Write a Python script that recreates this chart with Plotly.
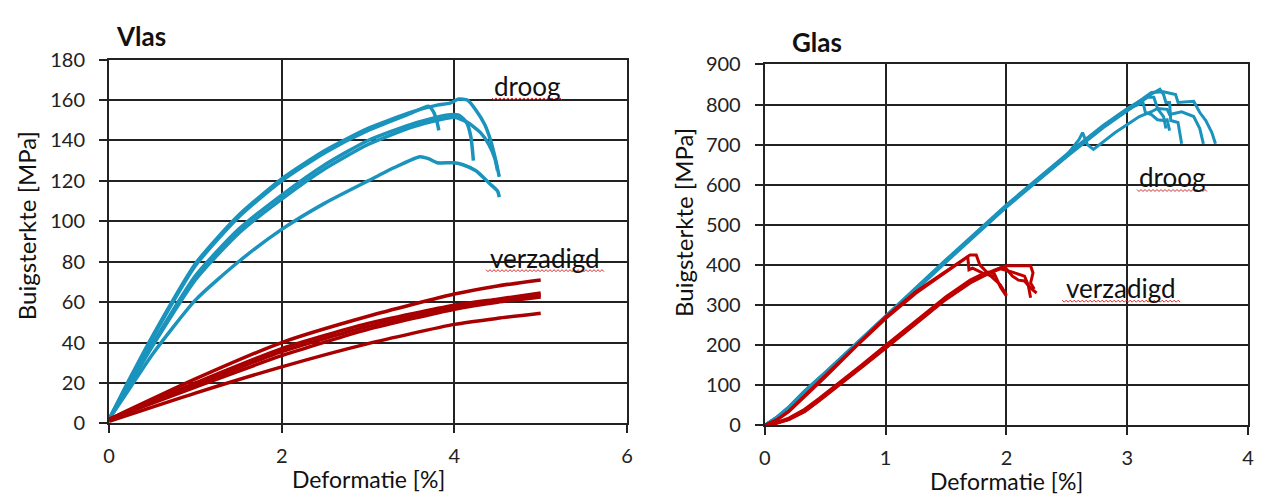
import plotly.graph_objects as go

# ---- Vlas (flax) : deformation [%] vs flexural strength [MPa] ----
vlas_droog = [
    ([0, 0.25, 0.5, 1, 1.5, 2, 2.5, 3, 3.5, 3.8, 3.95, 4.05, 4.15, 4.25, 4.35, 4.42, 4.48, 4.52],
     [2, 23, 43, 79, 103, 121, 135, 146, 154, 157.5, 158.5, 160.5, 160, 155, 148, 140, 130, 122]),
    ([0, 0.25, 0.5, 1, 1.5, 2, 2.5, 3, 3.5, 3.7, 3.76, 3.8, 3.82],
     [2, 22, 42, 78, 102, 120, 134, 145, 153.5, 157, 154, 149, 145]),
    ([0, 0.25, 0.5, 1, 1.5, 2, 2.5, 3, 3.5, 3.9, 4.05, 4.14, 4.19, 4.21, 4.22],
     [2, 21, 39, 73, 96, 113, 128, 140, 148, 152.5, 152.5, 149, 142, 135, 130]),
    ([0, 0.25, 0.5, 1, 1.5, 2, 2.5, 3, 3.5, 3.8, 4.0, 4.15, 4.3, 4.4, 4.47, 4.5],
     [2, 20, 38, 71, 94, 111, 126, 138, 146.5, 150, 151.5, 149, 144, 138, 131, 125]),
    ([0, 0.25, 0.5, 1, 1.5, 2, 2.5, 3, 3.3, 3.6, 3.7, 3.8, 4.0, 4.1, 4.25, 4.4, 4.5, 4.52],
     [2, 18, 34, 61, 80, 96, 109, 120, 126.5, 132, 131, 129, 129, 128, 125, 119, 115, 112]),
]
vlas_verzadigd = [
    ([0, 1, 2, 3, 4, 4.5, 5.0], [2, 22, 40, 53, 64, 68, 71]),
    ([0, 1, 2, 3, 4, 4.5, 5.0], [2, 20, 37, 49.5, 58.5, 61.5, 64.5]),
    ([0, 1, 2, 3, 4, 4.5, 5.0], [2, 19, 35.5, 48, 57.5, 60.5, 63.5]),
    ([0, 1, 2, 3, 4, 4.5, 5.0], [2, 18, 33.5, 46.5, 56.5, 60, 62.5]),
    ([0, 1, 2, 3, 4, 4.5, 5.0], [1, 15, 28, 39.5, 49, 52, 54.5]),
]

# ---- Glas (glass) ----
glas_droog = [
    ([0, 0.1, 0.2, 0.33, 0.5, 1, 1.5, 2, 2.5, 2.8, 3.0, 3.1, 3.2, 3.27, 3.3, 3.32, 3.35, 3.36, 3.42, 3.45],
     [0, 20, 46, 86, 132, 273, 413, 550, 676, 748, 790, 808, 825, 838, 825, 805, 805, 760, 755, 702]),
    ([0, 0.1, 0.2, 0.33, 0.5, 1, 1.5, 2, 2.5, 2.8, 3.0, 3.13, 3.2, 3.3, 3.4, 3.42, 3.55, 3.6, 3.65, 3.7, 3.73],
     [0, 19, 44, 84, 129, 270, 409, 546, 672, 744, 788, 815, 830, 832, 825, 805, 808, 780, 760, 730, 702]),
    ([0, 0.1, 0.2, 0.33, 0.5, 1, 1.5, 2, 2.5, 2.6, 2.63, 2.67, 2.72, 2.9, 3.1, 3.2, 3.25, 3.33, 3.35, 3.45, 3.55, 3.6, 3.63],
     [0, 20, 45, 85, 131, 271, 411, 548, 674, 712, 730, 700, 688, 730, 770, 782, 790, 788, 775, 782, 770, 740, 702]),
    ([0, 0.1, 0.2, 0.33, 0.5, 1, 1.5, 2, 2.5, 2.8, 3.05, 3.13, 3.15, 3.2, 3.25, 3.3, 3.33, 3.35],
     [0, 18, 43, 82, 127, 267, 407, 544, 670, 742, 795, 805, 780, 775, 762, 760, 762, 735]),
    ([0, 0.1, 0.2, 0.33, 0.5, 1, 1.5, 2, 2.5, 2.8, 3.1, 3.17, 3.22, 3.25, 3.3, 3.32],
     [0, 20, 45, 85, 130, 270, 410, 547, 673, 746, 805, 818, 818, 790, 770, 740]),
]
glas_verzadigd = [
    ([0, 0.1, 0.2, 0.33, 0.5, 0.75, 1, 1.25, 1.5, 1.6, 1.65, 1.7, 1.75, 1.78, 1.85, 1.95, 2.0],
     [0, 14, 36, 74, 124, 199, 270, 333, 385, 405, 415, 425, 425, 400, 378, 350, 325]),
    ([0, 0.1, 0.2, 0.33, 0.5, 0.75, 1, 1.25, 1.5, 1.6, 1.68, 1.69, 1.72, 1.8, 1.9],
     [0, 13, 34, 71, 120, 195, 266, 329, 382, 402, 420, 388, 392, 380, 370]),
    ([0, 0.1, 0.2, 0.33, 0.45, 0.6, 0.8, 1, 1.25, 1.5, 1.7, 1.8, 1.9, 2.0, 2.1, 2.2, 2.22, 2.2, 2.23],
     [0, 6, 16, 37, 64, 99, 147, 196, 258, 318, 358, 374, 387, 398, 398, 398, 380, 355, 340]),
    ([0, 0.1, 0.2, 0.33, 0.45, 0.6, 0.8, 1, 1.25, 1.5, 1.7, 1.8, 1.9, 1.95, 2.0, 2.05, 2.1, 2.15, 2.2, 2.25],
     [0, 5, 14, 34, 61, 96, 144, 192, 254, 314, 355, 371, 385, 393, 390, 372, 362, 360, 342, 330]),
    ([0, 0.1, 0.2, 0.33, 0.45, 0.6, 0.8, 1, 1.25, 1.5, 1.7, 1.8, 1.85, 1.9, 1.95, 2.0],
     [0, 7, 18, 40, 67, 102, 150, 199, 261, 321, 362, 377, 382, 378, 345, 322]),
    ([0, 0.1, 0.2, 0.33, 0.45, 0.6, 0.8, 1, 1.25, 1.5, 1.7, 1.8, 1.95, 2.05, 2.15, 2.18, 2.2],
     [0, 6, 15, 35, 62, 97, 145, 194, 256, 316, 356, 373, 390, 382, 372, 350, 318]),
]

vlas_xticks = [0, 2, 4, 6]
vlas_yticks = [0, 20, 40, 60, 80, 100, 120, 140, 160, 180]
glas_xticks = [0, 1, 2, 3, 4]
glas_yticks = [0, 100, 200, 300, 400, 500, 600, 700, 800, 900]

BLUE = "#1a93bd"
RED_VLAS = "#a80000"
RED_GLAS = "#c00000"
INK = "#222222"
FONT = "Lato"

W, H = 1266, 502


def fx(px):
    """Page pixel column -> paper fraction."""
    return px / W


def fy(py):
    """Page pixel row (from top) -> paper fraction."""
    return 1 - py / H


fig = go.Figure()

for xs, ys in vlas_droog:
    fig.add_trace(go.Scatter(x=xs, y=ys, mode="lines", xaxis="x", yaxis="y",
                             line=dict(color=BLUE, width=3.5, shape="spline", smoothing=0.6)))
for xs, ys in vlas_verzadigd:
    fig.add_trace(go.Scatter(x=xs, y=ys, mode="lines", xaxis="x", yaxis="y",
                             line=dict(color=RED_VLAS, width=3.5, shape="spline", smoothing=0.6)))
for xs, ys in glas_droog:
    fig.add_trace(go.Scatter(x=xs, y=ys, mode="lines", xaxis="x2", yaxis="y2",
                             line=dict(color=BLUE, width=3)))
for xs, ys in glas_verzadigd:
    fig.add_trace(go.Scatter(x=xs, y=ys, mode="lines", xaxis="x2", yaxis="y2",
                             line=dict(color=RED_GLAS, width=3)))

axis_common = dict(
    showgrid=True, gridcolor=INK, gridwidth=2,
    showline=True, linecolor=INK, linewidth=2, mirror=True,
    ticks="outside", ticklen=8, tickcolor=INK, tickwidth=2,
    zeroline=False, tickfont=dict(family=FONT, size=20, color=INK),
)
xaxis_extra = dict(ticklabelstandoff=6)
yaxis_extra = dict(ticklabelstandoff=10)

fig.update_layout(
    width=W, height=H,
    margin=dict(l=0, r=0, t=0, b=0),
    paper_bgcolor="white", plot_bgcolor="white",
    showlegend=False,
    xaxis=dict(domain=[fx(104), fx(627)], range=[0, 6], tickvals=vlas_xticks, anchor="y",
               **axis_common, **xaxis_extra),
    yaxis=dict(domain=[fy(431), fy(49)], range=[0, 180], tickvals=vlas_yticks, anchor="x",
               **axis_common, **yaxis_extra),
    xaxis2=dict(domain=[fx(766), fx(1254)], range=[0, 4], tickvals=glas_xticks, anchor="y2",
                **axis_common, **xaxis_extra),
    yaxis2=dict(domain=[fy(433), fy(54)], range=[0, 900], tickvals=glas_yticks, anchor="x2",
                **axis_common, **yaxis_extra),
)

annotations = [
    # panel titles
    dict(text="<b>Vlas</b>", x=fx(109), y=fy(24), xanchor="left", yanchor="middle", font=dict(size=26)),
    dict(text="<b>Glas</b>", x=fx(792), y=fy(30), xanchor="left", yanchor="middle", font=dict(size=26)),
    # axis titles
    dict(text="Deformatie [%]", x=fx((104 + 627) / 2), y=fy(489), xanchor="center", yanchor="middle", font=dict(size=23)),
    dict(text="Deformatie [%]", x=fx((766 + 1254) / 2), y=fy(491), xanchor="center", yanchor="middle", font=dict(size=23)),
    dict(text="Buigsterkte [MPa]", x=fx(21), y=fy(223), textangle=-90, xanchor="center", yanchor="middle", font=dict(size=24)),
    dict(text="Buigsterkte [MPa]", x=fx(684), y=fy(220), textangle=-90, xanchor="center", yanchor="middle", font=dict(size=24)),
]
for a in annotations:
    a.update(xref="paper", yref="paper", showarrow=False)
    a["font"].update(family=FONT, color="#111")

# curve group labels with a red wavy underline
labels = [
    ("x", "y", 4.84, 167, "droog", 70),
    ("x", "y", 5.05, 82, "verzadigd", 118),
    ("x2", "y2", 3.37, 618, "droog", 70),
    ("x2", "y2", 2.95, 342, "verzadigd", 118),
]
shapes = []
for xr, yr, lx, ly, txt, wpx in labels:
    annotations.append(dict(
        xref=xr, yref=yr, x=lx, y=ly, showarrow=False, text=txt,
        font=dict(family=FONT, size=26, color="#111"),
        xanchor="center", yanchor="middle"))
    pts = []
    step = 2
    n = int(wpx / step)
    for i in range(n + 1):
        px = -wpx / 2 + i * step
        py = -12 if i % 2 == 0 else -14
        pts.append(("M" if i == 0 else "L") + f"{px:.1f},{py}")
    shapes.append(dict(
        type="path", xref=xr, yref=yr, xsizemode="pixel", ysizemode="pixel",
        xanchor=lx, yanchor=ly, path=" ".join(pts),
        line=dict(color="#d42a2a", width=1)))

fig.update_layout(annotations=annotations, shapes=shapes)
fig.write_html("out.html")
